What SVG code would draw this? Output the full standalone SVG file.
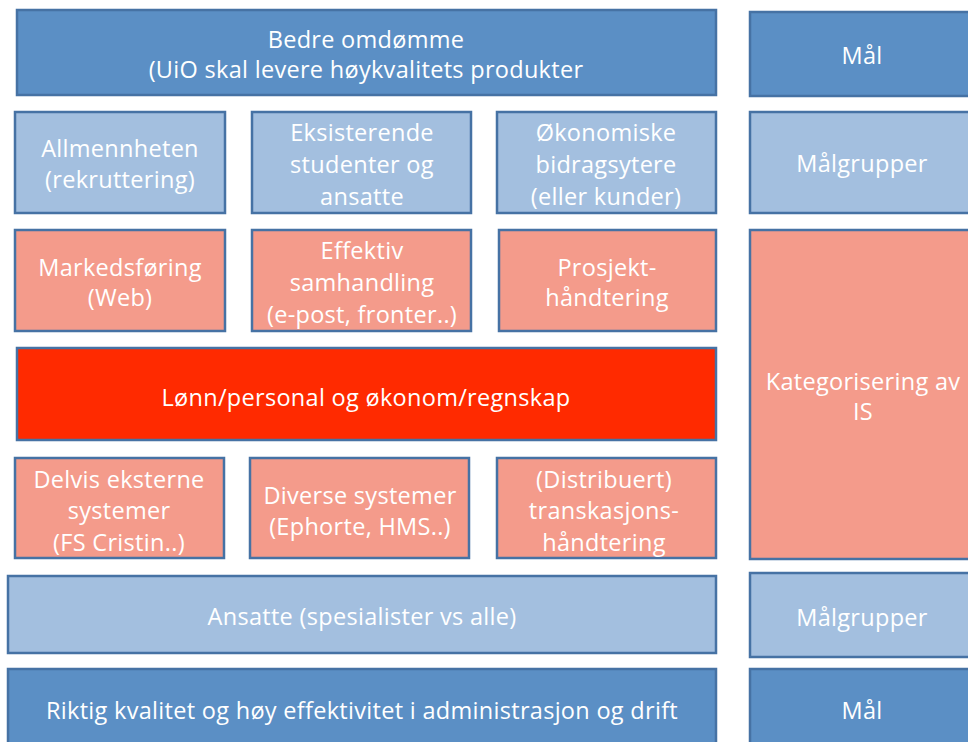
<svg xmlns="http://www.w3.org/2000/svg" width="968" height="742" viewBox="0 0 968 742">
  <style>
    .box { stroke: #4672a4; stroke-width: 2.5; }
    .dark { fill: #5b8fc5; }
    .light { fill: #a3bfdf; }
    .salmon { fill: #f49b8b; }
    .red { fill: #ff2a00; }
    text { font-family: "Open Sans", "Liberation Sans", sans-serif; font-size: 23.5px; letter-spacing: 0.3px; fill: #ffffff; text-anchor: middle; }
  </style>
  <rect width="968" height="742" fill="#ffffff"/>

  <!-- Row: goal -->
  <g id="bedre-omdomme">
    <rect class="box dark" x="17" y="10" width="699" height="85"/>
    <text x="366" y="48">Bedre omdømme</text>
    <text x="366" y="78">(UiO skal levere høykvalitets produkter</text>
  </g>
  <g id="maal-top">
    <rect class="box dark" x="750" y="12" width="230" height="84"/>
    <text x="862" y="64">Mål</text>
  </g>

  <!-- Row: target groups -->
  <g id="allmennheten">
    <rect class="box light" x="15" y="112" width="210" height="101"/>
    <text x="120" y="157">Allmennheten</text>
    <text x="120" y="188">(rekruttering)</text>
  </g>
  <g id="eksisterende">
    <rect class="box light" x="252" y="112" width="219" height="101"/>
    <text x="362" y="141">Eksisterende</text>
    <text x="362" y="173">studenter og</text>
    <text x="362" y="205">ansatte</text>
  </g>
  <g id="okonomiske">
    <rect class="box light" x="497" y="112" width="219" height="101"/>
    <text x="606" y="141">Økonomiske</text>
    <text x="606" y="173">bidragsytere</text>
    <text x="606" y="205">(eller kunder)</text>
  </g>
  <g id="malgrupper-top">
    <rect class="box light" x="750" y="112" width="230" height="101"/>
    <text x="862" y="172">Målgrupper</text>
  </g>

  <!-- Row: systems -->
  <g id="markedsforing">
    <rect class="box salmon" x="15" y="230" width="210" height="101"/>
    <text x="120" y="276">Markedsføring</text>
    <text x="120" y="306">(Web)</text>
  </g>
  <g id="effektiv-samhandling">
    <rect class="box salmon" x="252" y="230" width="219" height="101"/>
    <text x="362" y="259">Effektiv</text>
    <text x="362" y="291">samhandling</text>
    <text x="362" y="323">(e-post, fronter..)</text>
  </g>
  <g id="prosjekthandtering">
    <rect class="box salmon" x="499" y="230" width="217" height="101"/>
    <text x="607" y="276">Prosjekt-</text>
    <text x="607" y="306">håndtering</text>
  </g>
  <g id="kategorisering">
    <rect class="box salmon" x="750" y="230" width="230" height="329"/>
    <text x="863" y="390">Kategorisering av</text>
    <text x="863" y="420">IS</text>
  </g>

  <g id="lonn-okonomi">
    <rect class="box red" x="17" y="348" width="699" height="92"/>
    <text x="366" y="406">Lønn/personal og økonom/regnskap</text>
  </g>

  <g id="delvis-eksterne">
    <rect class="box salmon" x="15" y="458" width="209" height="100"/>
    <text x="119" y="488">Delvis eksterne</text>
    <text x="119" y="519">systemer</text>
    <text x="119" y="551">(FS Cristin..)</text>
  </g>
  <g id="diverse-systemer">
    <rect class="box salmon" x="250" y="458" width="219" height="100"/>
    <text x="360" y="504">Diverse systemer</text>
    <text x="360" y="535">(Ephorte, HMS..)</text>
  </g>
  <g id="distribuert">
    <rect class="box salmon" x="497" y="458" width="219" height="100"/>
    <text x="604" y="488">(Distribuert)</text>
    <text x="604" y="519">transkasjons-</text>
    <text x="604" y="551">håndtering</text>
  </g>

  <!-- Row: staff -->
  <g id="ansatte">
    <rect class="box light" x="8" y="576" width="708" height="77"/>
    <text x="362" y="625">Ansatte (spesialister vs alle)</text>
  </g>
  <g id="malgrupper-bottom">
    <rect class="box light" x="750" y="573" width="230" height="84"/>
    <text x="862" y="626">Målgrupper</text>
  </g>

  <!-- Row: administrative goal -->
  <g id="riktig-kvalitet">
    <rect class="box dark" x="8" y="669" width="708" height="90"/>
    <text x="362" y="719">Riktig kvalitet og høy effektivitet i administrasjon og drift</text>
  </g>
  <g id="maal-bottom">
    <rect class="box dark" x="750" y="669" width="230" height="90"/>
    <text x="862" y="719">Mål</text>
  </g>

  <g id="connectors"/>
</svg>
